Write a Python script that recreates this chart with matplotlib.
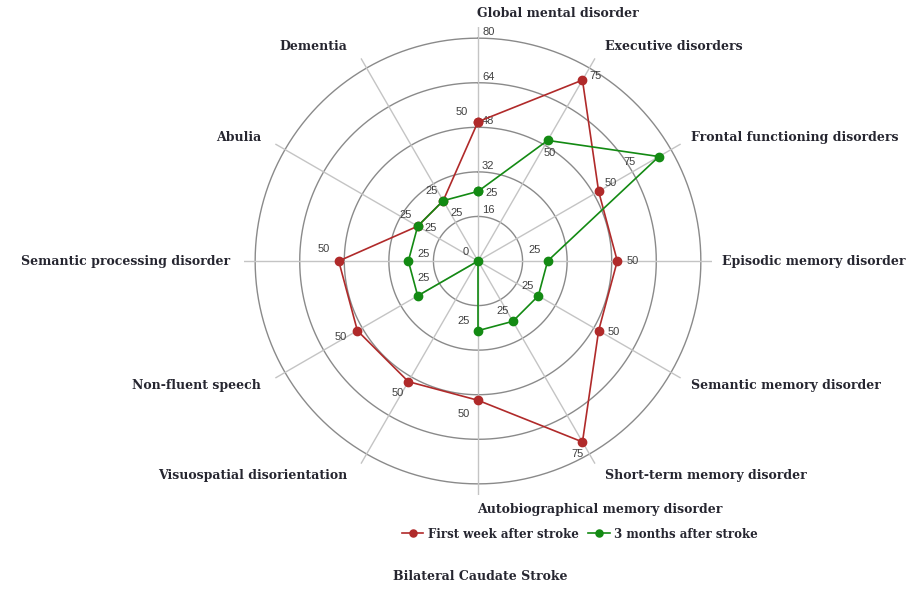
import numpy as np
import matplotlib
matplotlib.use("Agg")
import matplotlib.pyplot as plt

# categories, clockwise from the top
categories = [
    "Global mental disorder",
    "Executive disorders",
    "Frontal functioning disorders",
    "Episodic memory disorder",
    "Semantic memory disorder",
    "Short-term memory disorder",
    "Autobiographical memory disorder",
    "Visuospatial disorientation",
    "Non-fluent speech",
    "Semantic processing disorder",
    "Abulia",
    "Dementia",
]
first_week = [50, 75, 50, 50, 50, 75, 50, 50, 50, 50, 25, 25]
three_months = [25, 50, 75, 25, 25, 25, 25, 0, 25, 25, 25, 25]
radial_ticks = [16, 32, 48, 64, 80]

series_names = ["First week after stroke", "3 months after stroke"]
red = "#B02A2A"
green = "#138A13"

# label offsets in pixels (dx, dy) for the value labels
red_offsets = [(-16, 10), (13, 4), (12, 8), (15, 0), (15, -1), (-5, -12),
               (-14, -14), (-11, -11), (-17, -6), (-15, 12), (-12, 11), (-12, 10)]
green_offsets = [(14, -2), (2, -13), (-29, -5), (-13, 11), (-11, 10), (-10, 10),
                 (-14, 10), (-12, 9), (6, 18), (15, 7), (13, -2), (13, -12)]

serif = "DejaVu Serif"
sans = "Liberation Sans"

fig = plt.figure(figsize=(9.18, 5.90), dpi=100)
ax = fig.add_axes([0.2658, 0.161, 0.5098, 0.7932], projection="polar")
ax.set_theta_zero_location("N")
ax.set_theta_direction(-1)
rmax = 84
ax.set_ylim(0, rmax)
ax.grid(False)
ax.spines["polar"].set_visible(False)
ax.set_xticks([])
ax.set_yticks([])

n = len(categories)
angles = np.arange(n) * 2 * np.pi / n

# circles and spokes
full = np.linspace(0, 2 * np.pi, 361)
for r in radial_ticks:
    ax.plot(full, [r] * len(full), color="#8a8a8a", lw=1.0, zorder=1)
for a in angles:
    ax.plot([a, a], [0, rmax], color="#c4c4c4", lw=1.0, zorder=1)

# radial scale labels along the top spoke
for r in radial_ticks:
    ax.annotate(str(r), xy=(0, r), xytext=(4, 1), textcoords="offset pixels",
                ha="left", va="bottom", fontsize=8, color="#404040", family=sans)

# category labels
for a, name in zip(angles, categories):
    s, c = np.sin(a), np.cos(a)
    if abs(s) < 1e-6:
        dx, ha = -1, "left"
    elif s > 0:
        dx, ha = 10, "left"
    else:
        dx, ha = -14, "right"
    dy = 14 * c
    ax.annotate(name, xy=(a, rmax), xytext=(dx, dy), textcoords="offset pixels",
                ha=ha, va="center", fontsize=9, fontweight="bold",
                color="#262630", family=serif)

# series
closed = np.append(angles, angles[0])
for vals, color, offs, label in [(first_week, red, red_offsets, series_names[0]),
                                 (three_months, green, green_offsets, series_names[1])]:
    v = np.append(vals, vals[0])
    ax.plot(closed, v, color=color, lw=1.2, marker="o", markersize=6,
            label=label, zorder=3)
    for a, val, (dx, dy) in zip(angles, vals, offs):
        ax.annotate(str(val), xy=(a, val), xytext=(dx, dy), textcoords="offset pixels",
                    ha="center", va="center", fontsize=8, color="#404040",
                    family=sans, zorder=4)

leg = fig.legend(loc="center", bbox_to_anchor=(580 / 918, 1 - 534 / 590), ncol=2,
                 frameon=False, handlelength=1.8, columnspacing=0.8, handletextpad=0.4,
                 markerscale=0.85, prop={"family": serif, "weight": "bold", "size": 8.5})
for t in leg.get_texts():
    t.set_color("#262630")

fig.text(393 / 918, 1 - 577 / 590, "Bilateral Caudate Stroke", ha="left", va="center",
         fontsize=9, fontweight="bold", color="#262630", family=serif)

fig.savefig("out.png", dpi=100)
